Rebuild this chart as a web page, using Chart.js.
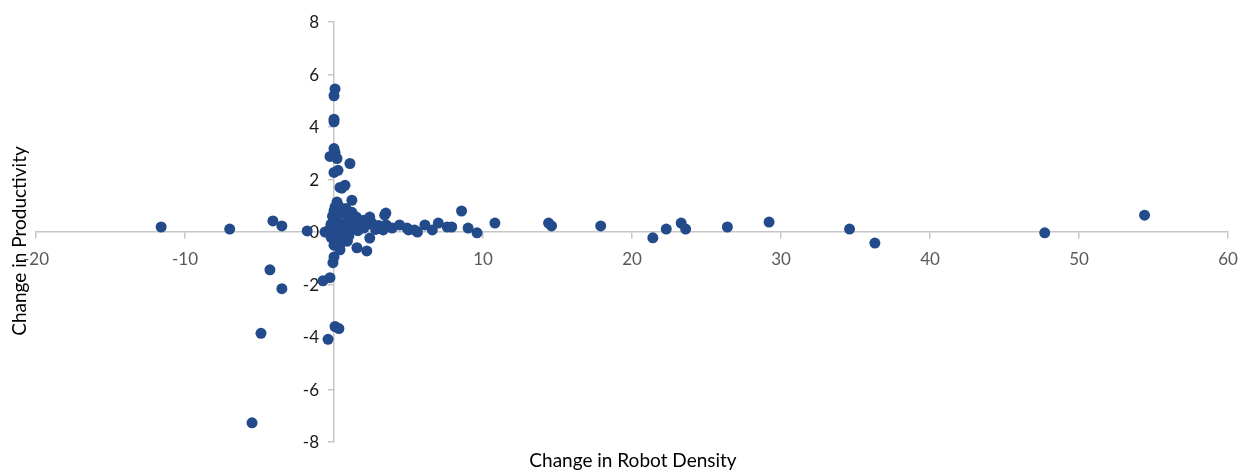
<!DOCTYPE html>
<html>
<head>
<meta charset="utf-8">
<script src="https://cdn.jsdelivr.net/npm/chart.js@4/dist/chart.umd.min.js"></script>
<style>
  html, body { margin: 0; padding: 0; background: #fff; }
  #chart { display: block; }
</style>
</head>
<body>
<canvas id="chart" width="1252" height="473"></canvas>
<script>
  'use strict';

  var xTitle = 'Change in Robot Density';
  var yTitle = 'Change in Productivity';

  var xTicks = [-20, -10, 0, 10, 20, 30, 40, 50, 60];
  var yTicks = [-8, -6, -4, -2, 0, 2, 4, 6, 8];

  // change in robot density (x) and change in productivity (y), one pair per point
  var robotDensityChange = [
    -11.6, -7.0, -4.1, -3.5, -1.8, -4.3, -3.5, -4.9, -5.5, -0.4, 0.07, 0.33, -0.74, -0.27, -0.07, 0.0,
    0.07, 0.0, 0.0, 0.0, 0.0, 0.07, -0.27, 0.2, 1.07, 0.0, 0.27, 0.4, 0.74, 0.53, 0.2, 1.2, 0.07,
    -0.6, -0.3, -0.2, 0.1, 0.1, 0.0, 0.3, 0.4, 0.2, 0.5, 0.6, 0.3, 0.2, 0.4, 0.4, 0.8, 0.9, 0.7, 1.0,
    1.1, 1.0, 1.3, 1.4, 1.5, 1.6, 1.54, 1.8, 2.0, 2.2, 2.4, 2.4, 2.5, 2.54, 2.8, 3.0, 3.2, 3.48, 3.5,
    -0.1, -0.2, 0.0, 0.6, 1.2, 2.0, 0.9,
    3.4, 3.3, 3.9, 4.4, 4.9, 5.0, 5.4, 5.6, 6.1, 6.6, 7.0, 7.6, 7.9, 8.56, 9.0, 9.6, 10.8, 14.4, 14.6,
    17.9, 21.4, 22.3, 23.3, 23.6, 26.4, 29.2, 34.6, 36.3, 47.7, 54.4
  ];
  var productivityChange = [
    0.19, 0.11, 0.42, 0.23, 0.04, -1.44, -2.16, -3.86, -7.27, -4.09, -3.6, -3.68, -1.86, -1.74, -1.17, -0.95,
    5.45, 5.19, 4.3, 4.2, 3.18, 3.03, 2.88, 2.8, 2.61, 2.27, 2.35, 1.7, 1.78, 1.67, 1.14, 1.21, 0.95,
    0.0, 0.1, -0.2, 0.2, 0.5, 0.8, 1.0, 0.7, 0.4, 0.3, 0.05, -0.1, -0.35, -0.5, -0.68, 0.9, 0.6, 0.2, 0.35,
    0.1, -0.15, 0.5, 0.25, 0.57, 0.05, -0.6, 0.3, 0.15, -0.72, 0.57, -0.23, 0.3, 0.34, 0.1, 0.25, 0.15, 0.72, 0.27,
    0.6, 0.3, -0.5, -0.3, 0.75, 0.45, -0.35,
    0.64, 0.08, 0.15, 0.27, 0.15, 0.08, 0.08, 0.0, 0.27, 0.08, 0.34, 0.19, 0.19, 0.8, 0.15, -0.03, 0.34, 0.34, 0.23,
    0.23, -0.22, 0.11, 0.34, 0.11, 0.19, 0.38, 0.11, -0.42, -0.03, 0.64
  ];

  var points = robotDensityChange.map(function (x, i) {
    return { x: x, y: productivityChange[i] };
  });

  var axisColor = '#c6c6c6';
  var dotColor = '#234b8c';

  // axis titles sit at the canvas edges, and the y labels need a gap from the
  // axis line, which chart.js does not give for an axis placed at x = 0
  var axisText = {
    id: 'axisText',
    beforeDatasetsDraw: function (chart) {
      var ctx = chart.ctx;
      var xs = chart.scales.x;
      var ys = chart.scales.y;
      var axisX = xs.getPixelForValue(0);
      ctx.save();
      ctx.fillStyle = '#1a1a1a';
      ctx.font = '17px Lato';
      ctx.textAlign = 'right';
      ctx.textBaseline = 'middle';
      yTicks.forEach(function (v) {
        ctx.fillText(String(v).replace('-', '\u2011'), axisX - 15, ys.getPixelForValue(v) + 1);
      });
      ctx.restore();
    },
    afterDraw: function (chart) {
      var ctx = chart.ctx;
      var area = chart.chartArea;
      ctx.save();
      ctx.fillStyle = '#000';
      ctx.font = '19px Lato';
      ctx.textAlign = 'center';
      ctx.textBaseline = 'middle';
      ctx.fillText(xTitle, (area.left + area.right) / 2 + 1, 461);
      ctx.translate(20, 241);
      ctx.rotate(-Math.PI / 2);
      ctx.fillText(yTitle, 0, 0);
      ctx.restore();
    }
  };

  new Chart(document.getElementById('chart'), {
    type: 'scatter',
    data: {
      datasets: [{
        data: points,
        backgroundColor: dotColor,
        borderColor: dotColor,
        borderWidth: 0,
        pointRadius: 5.5,
        pointHoverRadius: 5.5
      }]
    },
    options: {
      responsive: false,
      animation: false,
      layout: { padding: { left: 36, right: 24, top: 22, bottom: 31 } },
      plugins: {
        legend: { display: false },
        tooltip: { enabled: false }
      },
      scales: {
        x: {
          type: 'linear',
          position: { y: 0 },
          min: xTicks[0],
          max: xTicks[xTicks.length - 1],
          afterBuildTicks: function (s) {
            s.ticks = xTicks.map(function (v) { return { value: v }; });
          },
          afterFit: function (s) { s.height = 0; },
          ticks: {
            color: '#595959',
            font: { family: 'Lato', size: 17 },
            padding: 11,
            maxRotation: 0
          },
          grid: { drawOnChartArea: false, tickLength: 6, color: axisColor, lineWidth: 1.5 },
          border: { color: axisColor, width: 1.5 }
        },
        y: {
          type: 'linear',
          position: { x: 0 },
          min: yTicks[0],
          max: yTicks[yTicks.length - 1],
          afterBuildTicks: function (s) {
            s.ticks = yTicks.map(function (v) { return { value: v }; });
          },
          afterFit: function (s) { s.width = 0; },
          ticks: { display: false },
          grid: { drawOnChartArea: false, tickLength: 5, color: axisColor, lineWidth: 1.5 },
          border: { color: axisColor, width: 1.5 }
        }
      }
    },
    plugins: [axisText]
  });
</script>
</body>
</html>
